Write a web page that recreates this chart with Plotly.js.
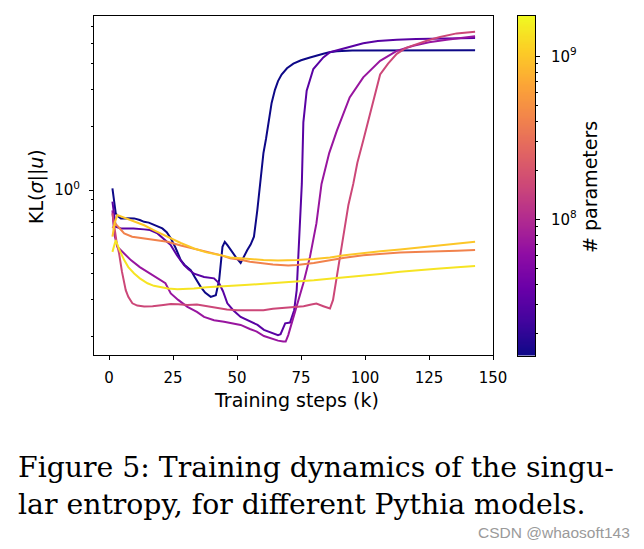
<!DOCTYPE html>
<html>
<head>
<meta charset="utf-8">
<script src="https://cdn.plot.ly/plotly-3.0.1.min.js"></script>
<style>html,body{margin:0;padding:0;background:#fff;}#chart{width:644px;height:549px;}</style>
</head>
<body>
<div id="chart"></div>
<script>
// ---- data (training steps in thousands, KL values) ----
const modelNames = ["14M", "31M", "70M", "160M", "410M", "1B", "1.4B"];
const modelParams = [14e6, 31e6, 70e6, 160e6, 410e6, 1.0e9, 1.4e9];

const steps14M = [1.3, 2.0, 2.6, 3.5, 4.6, 7, 9.8, 12, 13.7, 15.5, 17.6, 19.5, 20.8, 22.5, 24.1, 26, 28, 29.5, 31.9, 33.5, 35.8, 37.5, 39.7, 41.7, 43, 44.3, 45.2, 46.3, 47.5, 49.5, 51.4, 52.5, 54, 55.3, 56.6, 57.9, 59.3, 60.3, 61.3, 62.2, 63.5, 64.8, 66, 67.4, 69.5, 72, 75, 78.5, 81, 83.7, 86, 89, 95, 105, 120, 135, 143];
const kl14M = [1.02, 0.88, 0.775, 0.75, 0.733, 0.735, 0.733, 0.72, 0.706, 0.70, 0.681, 0.67, 0.657, 0.63, 0.589, 0.53, 0.464, 0.44, 0.416, 0.385, 0.346, 0.325, 0.31, 0.316, 0.373, 0.537, 0.567, 0.545, 0.518, 0.48, 0.45, 0.48, 0.518, 0.55, 0.60, 0.80, 1.18, 1.5, 1.75, 2.1, 2.6, 3.0, 3.3, 3.55, 3.8, 4.0, 4.15, 4.28, 4.38, 4.46, 4.53, 4.58, 4.62, 4.63, 4.63, 4.63, 4.63];

const steps31M = [1.3, 2.0, 2.6, 4.6, 9.5, 13.7, 16, 18.9, 21, 24.1, 26.5, 29.3, 31, 33.2, 37.1, 41, 43, 44.5, 46.2, 48.5, 51.4, 55, 58, 60.5, 63, 66, 67, 68, 68.8, 70.7, 71.5, 72.3, 73.3, 74.3, 75.3, 75.9, 77.2, 79.8, 83.7, 86.3, 92.8, 99.3, 105, 112.4, 120, 130, 143];
const kl31M = [0.88, 0.75, 0.669, 0.657, 0.657, 0.65, 0.645, 0.622, 0.59, 0.547, 0.49, 0.44, 0.42, 0.40, 0.386, 0.38, 0.36, 0.33, 0.289, 0.268, 0.249, 0.238, 0.228, 0.216, 0.21, 0.204, 0.206, 0.222, 0.232, 0.234, 0.25, 0.268, 0.334, 0.557, 1.07, 2.1, 2.97, 3.77, 4.28, 4.53, 4.77, 5.0, 5.12, 5.2, 5.24, 5.27, 5.3];

const steps70M = [1.3, 2.0, 3.2, 5.6, 8.5, 12, 16.3, 19.3, 22, 24.1, 27, 30.6, 34.3, 37.1, 41, 44.9, 48, 51.4, 55, 57.7, 60.5, 63.6, 66, 68, 69, 70, 71.5, 72.7, 74.3, 75.9, 78.5, 81, 83, 86, 89, 94, 99.3, 105.9, 112.4, 118.9, 125, 131.9, 143];
const kl70M = [0.80, 0.62, 0.537, 0.50, 0.464, 0.43, 0.40, 0.38, 0.36, 0.322, 0.30, 0.278, 0.263, 0.249, 0.24, 0.236, 0.232, 0.228, 0.218, 0.212, 0.202, 0.196, 0.192, 0.19, 0.19, 0.204, 0.235, 0.268, 0.31, 0.36, 0.482, 0.694, 1.07, 1.5, 1.92, 2.76, 3.44, 4.12, 4.6, 4.86, 5.05, 5.2, 5.4];

const steps160M = [1.3, 2.0, 3.0, 3.9, 5.0, 6.5, 7.5, 9.1, 11, 13.7, 17, 21.2, 24.1, 27, 30.6, 34.3, 38, 42, 46, 50, 55, 60.3, 64, 68, 72, 76, 79, 81, 83.7, 86.3, 87.5, 89, 91.5, 93.5, 95.4, 97, 99.3, 102.6, 105.9, 109, 112.4, 116, 120.2, 125, 129.3, 135.8, 143];
const kl160M = [0.775, 0.66, 0.557, 0.5, 0.41, 0.334, 0.31, 0.289, 0.282, 0.279, 0.28, 0.284, 0.287, 0.286, 0.284, 0.285, 0.28, 0.274, 0.27, 0.268, 0.267, 0.268, 0.272, 0.275, 0.278, 0.28, 0.285, 0.288, 0.28, 0.273, 0.30, 0.386, 0.60, 0.85, 1.07, 1.35, 1.72, 2.45, 3.55, 4.0, 4.45, 4.75, 4.95, 5.18, 5.35, 5.57, 5.67];

const steps410M = [1.3, 2.5, 4, 5.9, 9, 13.7, 18, 22.8, 28, 33.2, 38, 43.6, 47.3, 51.4, 55, 60.3, 64, 70, 73.3, 80, 86.3, 92, 99.3, 106, 113.7, 122.8, 130, 136, 143];
const kl410M = [0.66, 0.69, 0.66, 0.622, 0.60, 0.589, 0.578, 0.567, 0.545, 0.527, 0.51, 0.49, 0.473, 0.466, 0.456, 0.447, 0.442, 0.438, 0.44, 0.45, 0.464, 0.476, 0.49, 0.498, 0.505, 0.508, 0.51, 0.514, 0.518];

const steps1B = [1.3, 2.2, 3.2, 5, 8, 13.7, 18, 22.8, 28, 33.2, 38, 43.6, 47.3, 51.4, 56, 60.3, 66, 73.3, 80, 86.3, 92, 99.3, 106, 113.7, 122.8, 130, 136, 143];
const kl1B = [0.60, 0.70, 0.76, 0.745, 0.72, 0.68, 0.64, 0.60, 0.56, 0.527, 0.505, 0.49, 0.478, 0.474, 0.468, 0.464, 0.462, 0.464, 0.47, 0.478, 0.49, 0.503, 0.512, 0.522, 0.536, 0.548, 0.558, 0.567];

const steps1p4B = [1.3, 2.6, 4, 5.9, 7.5, 9.8, 12, 15, 17.5, 20.2, 23, 26.7, 30, 33.2, 38, 43.6, 47.3, 53, 60.5, 67, 73.3, 80, 86, 92.8, 100, 106, 113.7, 120, 128, 136, 143];
const kl1p4B = [0.508, 0.578, 0.52, 0.464, 0.43, 0.401, 0.38, 0.36, 0.35, 0.344, 0.34, 0.337, 0.338, 0.34, 0.345, 0.349, 0.35, 0.353, 0.358, 0.362, 0.366, 0.372, 0.378, 0.384, 0.392, 0.399, 0.408, 0.415, 0.422, 0.429, 0.435];

const xTicks = [0, 25, 50, 75, 100, 125, 150];
const cbMajor = [8, 9];
const cbMajorText = ["10<sup>8</sup>", "10<sup>9</sup>"];
const cbRange = [7.163, 9.249];   // log10(# parameters) shown on the colour bar

const allSteps = [steps14M, steps31M, steps70M, steps160M, steps410M, steps1B, steps1p4B];
const allKL = [kl14M, kl31M, kl70M, kl160M, kl410M, kl1B, kl1p4B];

// ---- plasma colour scale ----
const plasma = [[0,'#0d0887'],[0.1,'#41049d'],[0.2,'#6a00a8'],[0.3,'#8f0da4'],[0.4,'#b12a90'],[0.5,'#cc4778'],[0.6,'#e16462'],[0.7,'#f2844b'],[0.8,'#fca636'],[0.9,'#fcce25'],[1,'#f0f921']];
function hex2rgb(h){return [parseInt(h.substr(1,2),16),parseInt(h.substr(3,2),16),parseInt(h.substr(5,2),16)];}
function plasmaAt(t){
  t = Math.max(0, Math.min(1, t));
  for (let i = 1; i < plasma.length; i++) {
    if (t <= plasma[i][0]) {
      const a = plasma[i-1], b = plasma[i];
      const f = (t - a[0]) / (b[0] - a[0]);
      const ca = hex2rgb(a[1]), cb = hex2rgb(b[1]);
      return 'rgb(' + ca.map((v,k)=>Math.round(v + f*(cb[k]-v))).join(',') + ')';
    }
  }
  return plasma[plasma.length-1][1];
}

const traces = [];
for (let i = 0; i < modelNames.length; i++) {
  const t = (Math.log10(modelParams[i]) - cbRange[0]) / (cbRange[1] - cbRange[0]);
  traces.push({
    type: 'scatter', mode: 'lines', name: modelNames[i],
    x: allSteps[i], y: allKL[i],
    line: {color: plasmaAt(t), width: 2},
    xaxis: 'x', yaxis: 'y', hoverinfo: 'skip'
  });
}

// colour bar as a heatmap on its own axes
const nCb = 300;
const cbY = [], cbZ = [];
for (let i = 0; i < nCb; i++) {
  const v = cbRange[0] + (i + 0.5) * (cbRange[1] - cbRange[0]) / nCb;
  cbY.push(v); cbZ.push([v]);
}
traces.push({
  type: 'heatmap', x: [0], y: cbY, z: cbZ, xaxis: 'x2', yaxis: 'y2',
  colorscale: plasma, zmin: cbRange[0], zmax: cbRange[1], showscale: false, hoverinfo: 'skip'
});

const cbMinor = [];
for (const d of [7, 8]) for (let m = 2; m <= 9; m++) {
  const v = d + Math.log10(m);
  if (v > cbRange[0] && v < cbRange[1]) cbMinor.push(v);
}

const W = 644, H = 549;
const px = v => v / W, py = v => 1 - v / H;
const fnt = {family: 'DejaVu Sans', color: '#000'};

const layout = {
  width: W, height: H,
  margin: {l: 0, r: 0, t: 0, b: 0},
  paper_bgcolor: '#fff', plot_bgcolor: '#fff',
  showlegend: false,
  xaxis: {
    domain: [px(94), px(493)], anchor: 'y',
    range: [-5.9, 150], tickmode: 'array', tickvals: xTicks,
    ticks: 'outside', ticklen: 4, tickwidth: 1, tickcolor: '#000', ticklabelstandoff: 5,
    showline: true, linecolor: '#000', linewidth: 1, mirror: true,
    showgrid: false, zeroline: false,
    tickfont: {family: 'DejaVu Sans', size: 15, color: '#000'}
  },
  yaxis: {
    domain: [py(355), py(16)], anchor: 'x', type: 'log',
    range: [Math.log10(0.164), Math.log10(6.74)],
    tickmode: 'array', tickvals: [1], ticktext: ['10<sup>0</sup>'],
    ticks: 'outside', ticklen: 4, tickwidth: 1, tickcolor: '#000', ticklabelstandoff: 6,
    minor: {tickmode: 'array', tickvals: [0.2,0.3,0.4,0.5,0.6,0.7,0.8,0.9,2,3,4,5,6], ticks: 'outside', ticklen: 2, tickwidth: 1, tickcolor: '#000', showgrid: false},
    showline: true, linecolor: '#000', linewidth: 1, mirror: true,
    showgrid: false, zeroline: false,
    tickfont: {family: 'DejaVu Sans', size: 15, color: '#000'}
  },
  xaxis2: {
    domain: [px(517.5), px(535)], anchor: 'y2', range: [-0.5, 0.5],
    showticklabels: false, ticks: '', showgrid: false, zeroline: false,
    showline: true, linecolor: '#000', linewidth: 1, mirror: true
  },
  yaxis2: {
    domain: [py(355.5), py(16)], anchor: 'x2', side: 'right', range: cbRange,
    tickmode: 'array', tickvals: cbMajor, ticktext: cbMajorText,
    ticks: 'outside', ticklen: 4, tickwidth: 1, tickcolor: '#000', ticklabelstandoff: 8,
    minor: {tickmode: 'array', tickvals: cbMinor, ticks: 'outside', ticklen: 2, tickwidth: 1, tickcolor: '#000', showgrid: false},
    showline: true, linecolor: '#000', linewidth: 1, mirror: true,
    showgrid: false, zeroline: false,
    tickfont: {family: 'DejaVu Sans', size: 15, color: '#000'}
  },
  annotations: [
    {text: 'Training steps (k)', x: px(296), y: py(400), xref: 'paper', yref: 'paper', showarrow: false,
     xanchor: 'center', yanchor: 'middle', font: Object.assign({size: 19}, fnt)},
    {text: 'KL(<i>σ</i>||<i>u</i>)', x: px(36), y: py(187), xref: 'paper', yref: 'paper', showarrow: false,
     textangle: -90, xanchor: 'center', yanchor: 'middle', font: Object.assign({size: 19}, fnt)},
    {text: '# parameters', x: px(590), y: py(187), xref: 'paper', yref: 'paper', showarrow: false,
     textangle: -90, xanchor: 'center', yanchor: 'middle', font: Object.assign({size: 19}, fnt)},
    {text: 'Figure 5: Training dynamics of the singu-', x: px(16), y: py(468), xref: 'paper', yref: 'paper', showarrow: false,
     xanchor: 'left', yanchor: 'middle', font: {family: 'DejaVu Serif', size: 28.3, color: '#000'}},
    {text: 'lar entropy, for different Pythia models.', x: px(16), y: py(504), xref: 'paper', yref: 'paper', showarrow: false,
     xanchor: 'left', yanchor: 'middle', font: {family: 'DejaVu Serif', size: 28.3, color: '#000'}},
    {text: 'CSDN @whaosoft143', x: px(632), y: py(532), xref: 'paper', yref: 'paper', showarrow: false,
     xanchor: 'right', yanchor: 'middle', font: {family: 'Liberation Sans', size: 15.5, color: '#9a9a9a'}}
  ]
};

Plotly.newPlot('chart', traces, layout, {staticPlot: true, displayModeBar: false});
</script>
</body>
</html>
